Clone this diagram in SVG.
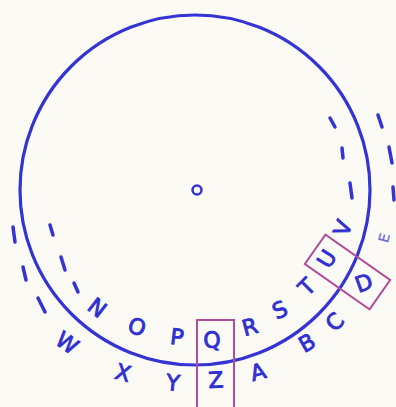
<svg xmlns="http://www.w3.org/2000/svg" width="396" height="407" viewBox="0 0 396 407">
<style>
.ink{fill:none;stroke:#3434d4;stroke-linecap:round}
.dash{fill:none;stroke:#3434d4;stroke-width:3.5;stroke-linecap:round}
.lt{font-family:"DejaVu Sans",sans-serif;font-size:22px;fill:#3030d0;stroke:#3030d0;stroke-width:0.9;text-anchor:middle;dominant-baseline:central}
.box{fill:none;stroke:#b04c9c;stroke-width:2}
</style>
<rect width="396" height="407" fill="#fbfaf5"/>
<g id="wheel">
<circle class="ink" cx="195" cy="190" r="175" stroke-width="3.2"/>
<circle class="ink" cx="197" cy="190" r="4.5" stroke-width="2.5" fill="#c8c8f0"/>
</g>
<g id="dashes">
<line class="dash" x1="330" y1="118" x2="335" y2="127"/>
<line class="dash" x1="342" y1="148" x2="343" y2="158"/>
<line class="dash" x1="350" y1="183" x2="352" y2="198"/>
<line class="dash" x1="378" y1="115" x2="382" y2="127"/>
<line class="dash" x1="389" y1="147" x2="392" y2="163"/>
<line class="dash" x1="393" y1="187" x2="394" y2="200"/>
<line class="dash" x1="13" y1="227" x2="15" y2="242"/>
<line class="dash" x1="23" y1="267" x2="26" y2="280"/>
<line class="dash" x1="38" y1="298" x2="45" y2="312"/>
<line class="dash" x1="50" y1="225" x2="53" y2="235"/>
<line class="dash" x1="61" y1="257" x2="65" y2="270"/>
<line class="dash" x1="74" y1="283" x2="78" y2="292"/>
</g>
<g id="inner-letters">
<text class="lt" transform="translate(97,308) rotate(38)">N</text>
<text class="lt" transform="translate(137,327) rotate(20)">O</text>
<text class="lt" transform="translate(177,337) rotate(7)">P</text>
<text class="lt" transform="translate(212,340) rotate(-3)">Q</text>
<text class="lt" transform="translate(250,327) rotate(-15)">R</text>
<text class="lt" transform="translate(280,310) rotate(-25)">S</text>
<text class="lt" transform="translate(307,287) rotate(-45)">T</text>
<text class="lt" transform="translate(327,259) rotate(-58)">U</text>
<text class="lt" transform="translate(343,228) rotate(-70)">V</text>
</g>
<g id="outer-letters">
<text class="lt" transform="translate(67,343) rotate(35)">W</text>
<text class="lt" transform="translate(123,373) rotate(15)">X</text>
<text class="lt" transform="translate(173,383) rotate(6)">Y</text>
<text class="lt" transform="translate(216,380) rotate(-3)">Z</text>
<text class="lt" transform="translate(258,372) rotate(-15)">A</text>
<text class="lt" transform="translate(307,343) rotate(-30)">B</text>
<text class="lt" transform="translate(335,322) rotate(-45)">C</text>
<text class="lt" transform="translate(364,283) rotate(-20)">D</text>
<text class="lt" transform="translate(384,238) rotate(-75)" style="font-size:14px;stroke-width:0.3;fill:#6a6ad8;stroke:#6a6ad8">E</text>
</g>
<g id="boxes">
<rect class="box" x="197" y="320" width="37" height="95"/>
<rect class="box" x="-39.5" y="-18" width="79" height="36" transform="translate(347.5,272) rotate(35)"/>
</g>
</svg>
